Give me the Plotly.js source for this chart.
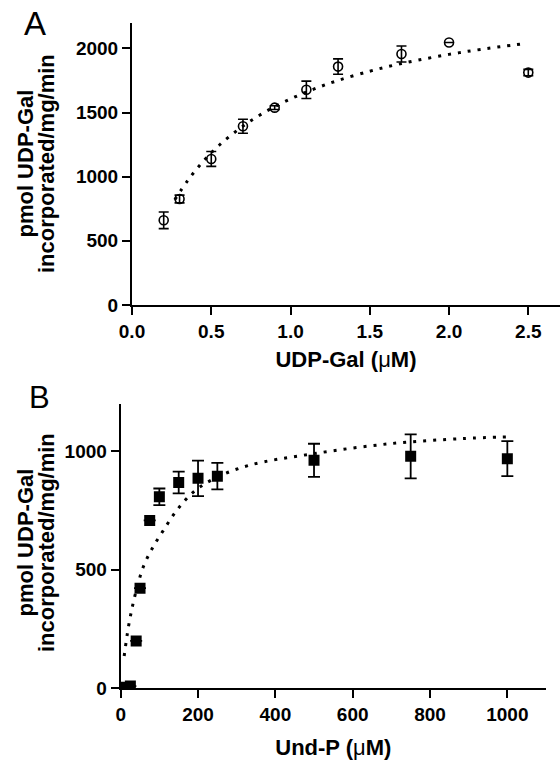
<!DOCTYPE html>
<html>
<head>
<meta charset="utf-8">
<script src="https://cdn.plot.ly/plotly-3.0.1.min.js"></script>
<style>html,body{margin:0;padding:0;background:#fff;}</style>
</head>
<body>
<div id="chart" style="width:560px;height:762px;"></div>
<script>
// Panel A data: UDP-Gal (µM) vs activity
var udpGal = [0.2, 0.3, 0.5, 0.7, 0.9, 1.1, 1.3, 1.7, 2.0, 2.5];
var actA   = [660, 826, 1138, 1393, 1538, 1677, 1858, 1956, 2046, 1811];
var errA   = [65, 30, 58, 55, 15, 68, 60, 62, 0, 25];
// Panel A fitted curve
var fitAx = [0.27, 0.35, 0.45, 0.55, 0.7, 0.85, 1.0, 1.15, 1.3, 1.5, 1.65, 1.8, 2.0, 2.2, 2.48];
var fitAy = [820, 968, 1121, 1245, 1394, 1512, 1606, 1684, 1750, 1822, 1868, 1907, 1953, 1992, 2038];

// Panel B data: Und-P (µM) vs activity
var undP = [10, 25, 40, 50, 75, 100, 150, 200, 250, 500, 750, 1000];
var actB = [3, 8, 199, 422, 708, 808, 868, 886, 895, 962, 979, 969];
var errB = [0, 0, 0, 0, 0, 35, 46, 75, 56, 70, 93, 74];
// Panel B fitted curve
var fitBx = [9, 20, 32, 45, 58, 80, 110, 147, 193, 250, 332, 498, 701, 886, 1006];
var fitBy = [135, 258, 357, 441, 510, 585, 665, 755, 835, 891, 941, 990, 1033, 1054, 1061];

var tickValsA = [0, 0.5, 1.0, 1.5, 2.0, 2.5];
var tickTextA = ['0.0', '0.5', '1.0', '1.5', '2.0', '2.5'];
var yTicksA = [0, 500, 1000, 1500, 2000];
var tickValsB = [0, 200, 400, 600, 800, 1000];
var yTicksB = [0, 500, 1000];

var FONT = 'Liberation Sans, Arial, Helvetica, sans-serif';
var dotLine = {color: 'black', width: 3, dash: '3px,7px', shape: 'spline'};

var traces = [
  {x: fitAx, y: fitAy, mode: 'lines', line: dotLine, xaxis: 'x', yaxis: 'y', hoverinfo: 'skip'},
  {x: udpGal, y: actA, mode: 'markers', xaxis: 'x', yaxis: 'y',
   marker: {symbol: 'circle-open', size: 9, color: 'black', line: {width: 1.6, color: 'black'}},
   error_y: {type: 'data', array: errA, visible: true, color: 'black', thickness: 1.6, width: 5}},
  {x: fitBx, y: fitBy, mode: 'lines', line: dotLine, xaxis: 'x2', yaxis: 'y2', hoverinfo: 'skip'},
  {x: undP, y: actB, mode: 'markers', xaxis: 'x2', yaxis: 'y2',
   marker: {symbol: 'square', size: 11, color: 'black'},
   error_y: {type: 'data', array: errB, visible: true, color: 'black', thickness: 1.8, width: 6}}
];

var tickFont = {family: FONT, size: 19, color: 'black', weight: 'bold'};
var titleFont = {family: FONT, size: 22, color: 'black', weight: 'bold'};
var yTitleFont = {family: FONT, size: 16.5, color: 'black', weight: 'bold'};
var common = {showgrid: false, zeroline: false, showline: true, linecolor: 'black', linewidth: 2,
  ticks: 'outside', ticklen: 8, tickwidth: 2, tickcolor: 'black', tickfont: tickFont, fixedrange: true};

var mu = '<span style="font-weight:normal">\u03bc</span>';
var yTitle = '<span style="font-size:22px">pmol UDP-Gal</span><br><span style="font-size:22px">incorporated/mg/min</span>';

var layout = {
  width: 560, height: 762,
  margin: {l: 0, r: 0, t: 0, b: 0},
  paper_bgcolor: 'white', plot_bgcolor: 'white',
  showlegend: false,
  xaxis: Object.assign({}, common, {domain: [132/560, 1], range: [0, 2.7], anchor: 'y',
    tickvals: tickValsA, ticktext: tickTextA,
    title: {text: 'UDP-Gal (' + mu + 'M)', font: titleFont, standoff: 11}}),
  yaxis: Object.assign({}, common, {domain: [1 - 305/762, 1 - 22.7/762], range: [0, 2200], anchor: 'x',
    tickvals: yTicksA}),
  xaxis2: Object.assign({}, common, {domain: [120.7/560, 546/560], range: [0, 1100], anchor: 'y2',
    tickvals: tickValsB,
    title: {text: 'Und-P (' + mu + 'M)', font: titleFont, standoff: 16}}),
  yaxis2: Object.assign({}, common, {domain: [1 - 688/762, 1 - 404/762], range: [0, 1200], anchor: 'x2',
    tickvals: yTicksB}),
  annotations: [
    {text: yTitle, xref: 'paper', yref: 'paper', x: 35.5/560, y: 1 - 163.5/762, xanchor: 'center', yanchor: 'middle',
     textangle: -90, showarrow: false, font: yTitleFont},
    {text: yTitle, xref: 'paper', yref: 'paper', x: 36/560, y: 1 - 543/762, xanchor: 'center', yanchor: 'middle',
     textangle: -90, showarrow: false, font: yTitleFont},
    {text: 'A', xref: 'paper', yref: 'paper', x: 35/560, y: 1 - 24/762, xanchor: 'center', yanchor: 'middle',
     showarrow: false, font: {family: FONT, size: 33, color: 'black'}},
    {text: 'B', xref: 'paper', yref: 'paper', x: 39/560, y: 1 - 397/762, xanchor: 'center', yanchor: 'middle',
     showarrow: false, font: {family: FONT, size: 31, color: 'black'}}
  ]
};

Plotly.newPlot('chart', traces, layout, {staticPlot: true, displayModeBar: false});
</script>
</body>
</html>
